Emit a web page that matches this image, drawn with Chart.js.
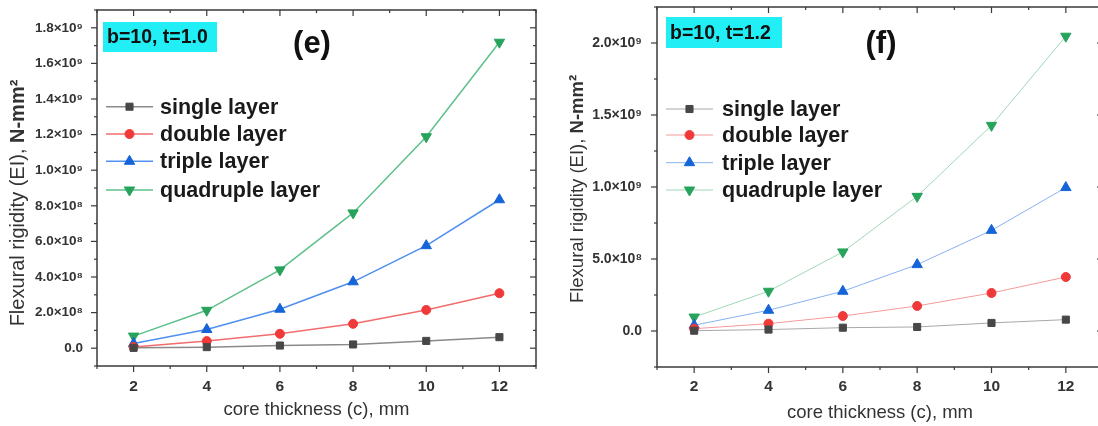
<!DOCTYPE html>
<html>
<head>
<meta charset="utf-8">
<script src="https://cdn.jsdelivr.net/npm/chart.js@4.4.0/dist/chart.umd.min.js"></script>
<style>
    html, body { margin: 0; padding: 0; background: #fff; overflow: hidden; }
    body { width: 1098px; height: 426px; position: relative; }
    canvas { position: absolute; top: 0; }
    #chart-e { left: 0; }
    #chart-f { left: 550px; }
</style>
</head>
<body>
<canvas id="chart-e" width="548" height="426"></canvas>
<canvas id="chart-f" width="560" height="426"></canvas>
<script>
const coreThickness = [2, 4, 6, 8, 10, 12];
const seriesNames = ['single layer', 'double layer', 'triple layer', 'quadruple layer'];

// (e) b=10, t=1.0
const singleE = [2e6, 6e6, 1.5e7, 2.1e7, 4.1e7, 6.2e7];
const doubleE = [7e6, 4.0e7, 8.1e7, 1.37e8, 2.15e8, 3.09e8];
const tripleE = [2.6e7, 1.05e8, 2.19e8, 3.73e8, 5.76e8, 8.34e8];
const quadE = [6.8e7, 2.13e8, 4.40e8, 7.60e8, 1.188e9, 1.719e9];

// (f) b=10, t=1.2
const singleF = [2e6, 1.0e7, 2.3e7, 2.8e7, 5.6e7, 7.9e7];
const doubleF = [1.6e7, 5.1e7, 1.04e8, 1.74e8, 2.64e8, 3.75e8];
const tripleF = [4.0e7, 1.44e8, 2.76e8, 4.61e8, 6.99e8, 9.96e8];
const quadF = [9.7e7, 2.76e8, 5.49e8, 9.35e8, 1.428e9, 2.047e9];

const FONT = "'Liberation Sans', Arial, sans-serif";
const SUP = {8: '\u2078', 9: '\u2079'};

function sciLabel(v) {
    if (Math.abs(v) < 1) return '0.0';
    const exp = Math.floor(Math.log10(v) + 1e-9);
    const m = v / Math.pow(10, exp);
    return m.toFixed(1) + '\u00d710' + SUP[exp];
}

function makeDatasets(values, light) {
    const markers = ['#474747', '#f03a3a', '#1565d8', '#27a35c'];
    const lines = light
        ? ['#a8a8a8', '#f59a9a', '#86b2f2', '#9fd8b6']
        : ['#8a8a8a', '#f26c6c', '#4f8ff0', '#5cc08a'];
    const styles = ['rect', 'circle', 'triangle', 'triangle'];
    const radius = [5, 4.5, 6, 6];
    return values.map((vals, i) => ({
        label: seriesNames[i],
        data: coreThickness.map((c, j) => ({x: c, y: vals[j]})),
        borderColor: lines[i],
        borderWidth: light ? 1 : 1.5,
        backgroundColor: markers[i],
        pointBackgroundColor: markers[i],
        pointBorderColor: markers[i],
        pointBorderWidth: 1,
        pointStyle: styles[i],
        pointRotation: i === 3 ? 180 : 0,
        pointRadius: radius[i],
        tension: 0,
        fill: false
    }));
}

function drawLine(ctx, x1, y1, x2, y2) {
    ctx.beginPath();
    ctx.moveTo(x1, y1);
    ctx.lineTo(x2, y2);
    ctx.stroke();
}

const decorPlugin = {
    id: 'decor',
    afterDraw(chart, args, opts) {
        const ctx = chart.ctx;
        const area = chart.chartArea;
        const xs = chart.scales.x;
        const ys = chart.scales.y;
        ctx.save();

        // frame + ticks on all four sides
        ctx.strokeStyle = '#3a3a3a';
        ctx.lineWidth = 1.5;
        ctx.strokeRect(area.left, area.top, area.right - area.left, area.bottom - area.top);
        ctx.lineWidth = 1.2;
        xs.ticks.forEach(t => {
            const px = xs.getPixelForValue(t.value);
            const len = Math.round(t.value) % 2 === 0 ? 6 : 3;
            drawLine(ctx, px, area.bottom, px, area.bottom + len);
            drawLine(ctx, px, area.top, px, area.top + len);
        });
        ys.ticks.forEach(t => {
            const py = ys.getPixelForValue(t.value);
            const len = Math.round(t.value / opts.minorStep) % 2 === 0 ? 6 : 3;
            drawLine(ctx, area.left - len, py, area.left, py);
            drawLine(ctx, area.right - len, py, area.right, py);
        });

        // y axis title, "N-mm²" in bold
        ctx.save();
        ctx.translate(opts.yTitleX, opts.yTitleY);
        ctx.rotate(-Math.PI / 2);
        ctx.fillStyle = '#333';
        ctx.textBaseline = 'middle';
        ctx.textAlign = 'left';
        const a = 'Flexural rigidity (EI), ';
        const b = 'N-mm\u00b2';
        ctx.font = opts.yTitleSize + 'px ' + FONT;
        const wa = ctx.measureText(a).width;
        ctx.font = 'bold ' + opts.yTitleSize + 'px ' + FONT;
        const wb = ctx.measureText(b).width;
        const start = -(wa + wb) / 2;
        ctx.font = opts.yTitleSize + 'px ' + FONT;
        ctx.fillText(a, start, 0);
        ctx.font = 'bold ' + opts.yTitleSize + 'px ' + FONT;
        ctx.fillText(b, start + wa, 0);
        ctx.restore();

        // parameter box
        const bx = opts.box;
        ctx.fillStyle = '#22eef6';
        ctx.fillRect(bx.x, bx.y, bx.w, bx.h);
        ctx.fillStyle = '#111';
        ctx.font = 'bold 19.5px ' + FONT;
        ctx.textAlign = 'left';
        ctx.textBaseline = 'middle';
        ctx.fillText(bx.text, bx.x + 4, bx.y + bx.h / 2 + 1);

        // panel letter
        ctx.font = 'bold 31px ' + FONT;
        ctx.textAlign = 'center';
        ctx.fillText(opts.letter.text, opts.letter.x, opts.letter.y);

        // legend
        const lg = opts.legend;
        chart.data.datasets.forEach((ds, i) => {
            const y = lg.rows[i];
            ctx.strokeStyle = ds.borderColor;
            ctx.lineWidth = ds.borderWidth;
            drawLine(ctx, lg.x1, y, lg.x2, y);
            ctx.fillStyle = ds.pointBackgroundColor;
            ctx.strokeStyle = ds.pointBorderColor;
            ctx.lineWidth = 1;
            Chart.helpers.drawPoint(ctx, {
                pointStyle: ds.pointStyle,
                radius: ds.pointRadius,
                rotation: ds.pointRotation,
                borderWidth: 1
            }, (lg.x1 + lg.x2) / 2, y);
            ctx.fillStyle = '#1a1a1a';
            ctx.font = 'bold ' + lg.size + 'px ' + FONT;
            ctx.textAlign = 'left';
            ctx.textBaseline = 'middle';
            ctx.fillText(ds.label, lg.textX, y + 1);
        });

        ctx.restore();
    }
};

function noPadding(s) {
    s.paddingTop = 0;
    s.paddingBottom = 0;
    s.paddingLeft = 0;
    s.paddingRight = 0;
}

function makeChart(id, cfg) {
    const ctx = document.getElementById(id).getContext('2d');
    return new Chart(ctx, {
        type: 'line',
        data: {
            datasets: makeDatasets(cfg.values, cfg.light)
        },
        options: {
            responsive: false,
            animation: false,
            layout: {
                padding: cfg.padding
            },
            plugins: {
                legend: { display: false },
                tooltip: { enabled: false },
                decor: cfg.decor
            },
            scales: {
                x: {
                    type: 'linear',
                    min: 1,
                    max: 13,
                    afterFit: s => { s.height = cfg.xHeight; noPadding(s); },
                    grid: { display: false },
                    border: { display: false },
                    ticks: {
                        stepSize: 1,
                        autoSkip: false,
                        maxRotation: 0,
                        padding: cfg.xTickPad,
                        color: '#333',
                        font: { family: FONT, size: 15.5, weight: 'bold' },
                        callback: v => (Math.round(v) % 2 === 0 ? String(v) : '')
                    },
                    title: {
                        display: true,
                        text: 'core thickness (c), mm',
                        color: '#333',
                        padding: { top: cfg.xTitlePad, bottom: cfg.xTitlePad },
                        font: { family: FONT, size: 18.5 }
                    }
                },
                y: {
                    min: cfg.yMin,
                    max: cfg.yMax,
                    afterFit: s => { s.width = cfg.yWidth; noPadding(s); },
                    grid: { display: false },
                    border: { display: false },
                    ticks: {
                        stepSize: cfg.minorStep,
                        autoSkip: false,
                        padding: cfg.yTickPad,
                        color: '#333',
                        font: { family: FONT, size: cfg.yTickSize, weight: 'bold' },
                        callback: v => {
                            const k = Math.round(v / cfg.minorStep);
                            if (k < 0 || k % 2 !== 0) return '';
                            return sciLabel(k * cfg.minorStep);
                        }
                    }
                }
            }
        },
        plugins: [decorPlugin]
    });
}

makeChart('chart-e', {
    values: [singleE, doubleE, tripleE, quadE],
    light: false,
    padding: { top: 10, right: 12, left: 0, bottom: 0 },
    xHeight: 60,
    yWidth: 97,
    xTickPad: 3,
    xTitlePad: 5,
    yTickPad: 6,
    yTickSize: 13.5,
    yMin: -1e8,
    yMax: 1.9e9,
    minorStep: 1e8,
    decor: {
        minorStep: 1e8,
        yTitleX: 18,
        yTitleY: 203,
        yTitleSize: 20,
        box: { x: 103, y: 22, w: 114, h: 30, text: 'b=10, t=1.0' },
        letter: { text: '(e)', x: 312, y: 44 },
        legend: { x1: 106, x2: 153, textX: 160, size: 21.5, rows: [106.7, 134, 161.3, 190] }
    }
});

makeChart('chart-f', {
    values: [singleF, doubleF, tripleF, quadF],
    light: true,
    padding: { top: 6, right: 6.3, left: 0, bottom: 0 },
    xHeight: 59,
    yWidth: 107,
    xTickPad: 2.5,
    xTitlePad: 2,
    yTickPad: 7,
    yTickSize: 14,
    yMin: -2.5e8,
    yMax: 2.25e9,
    minorStep: 2.5e8,
    decor: {
        minorStep: 2.5e8,
        yTitleX: 28,
        yTitleY: 189,
        yTitleSize: 18.5,
        box: { x: 116, y: 17, w: 116, h: 31, text: 'b=10, t=1.2' },
        letter: { text: '(f)', x: 331, y: 44 },
        legend: { x1: 116, x2: 163, textX: 172, size: 21.5, rows: [109, 135, 162.7, 190] }
    }
});
</script>
</body>
</html>
